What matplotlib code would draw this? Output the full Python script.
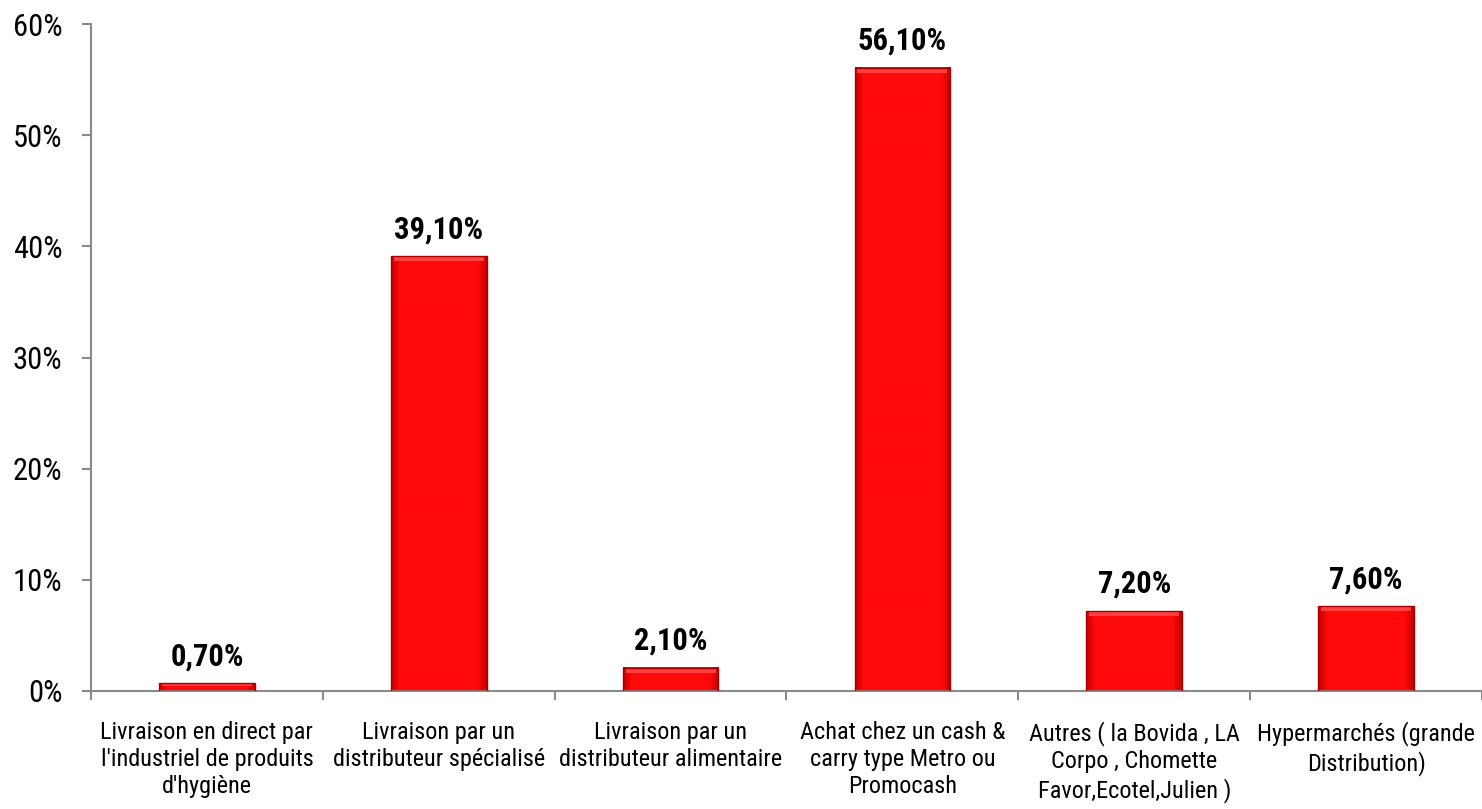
import matplotlib
matplotlib.use("Agg")
import matplotlib.pyplot as plt
from matplotlib.colors import to_rgb
import numpy as np

plt.rcParams['font.family'] = ['Roboto Condensed', 'Archivo Narrow', 'Liberation Sans', 'DejaVu Sans']

# Modes d'approvisionnement et part des réponses (%)
categories = [
    "Livraison en direct par\nl'industriel de produits\nd'hygiène",
    "Livraison par un\ndistributeur spécialisé",
    "Livraison par un\ndistributeur alimentaire",
    "Achat chez un cash &\ncarry type Metro ou\nPromocash",
    "Autres ( la Bovida , LA\nCorpo , Chomette\nFavor,Ecotel,Julien )",
    "Hypermarchés (grande\nDistribution)",
]
valeurs = [0.7, 39.1, 2.1, 56.1, 7.2, 7.6]
etiquettes = ["0,70%", "39,10%", "2,10%", "56,10%", "7,20%", "7,60%"]
yticks = [0, 10, 20, 30, 40, 50, 60]

GRIS = '#8a8a8a'

fig = plt.figure(figsize=(14.82, 8.09), dpi=100)
ax = fig.add_axes([0.0614, 0.146, 0.9386, 0.824])

x = np.arange(len(categories))
bars = ax.bar(x, valeurs, width=0.413, color='#f00000', edgecolor='#a80000',
              linewidth=1.0, zorder=3)

# Dégradé horizontal façon relief : bords plus sombres, centre rouge vif
profil = np.linspace(-1, 1, 60)
poids = np.clip((np.abs(profil) - 0.82) / 0.18, 0, 1)
fonce, vif = np.array(to_rgb('#c80000')), np.array(to_rgb('#ff0a0a'))
degrade = (vif[None, :] * (1 - poids[:, None]) + fonce[None, :] * poids[:, None])[None, :, :]
for b in bars:
    x0, w, h = b.get_x(), b.get_width(), b.get_height()
    ax.imshow(degrade, extent=(x0, x0 + w, 0, h), aspect='auto',
              interpolation='bilinear', zorder=2)
    b.set_facecolor('none')
    # liseré clair en haut de la barre
    bande = min(0.45, h * 0.35)
    ax.bar(x0 + w / 2, bande, bottom=h - bande, width=w * 0.94,
           color='#ff4040', linewidth=0, zorder=2.5)

for xi, v, lab in zip(x, valeurs, etiquettes):
    ax.annotate(lab, (xi, v), xytext=(0, 13), textcoords='offset points',
                ha='center', va='baseline', fontsize=22, fontweight='bold')

ax.set_xlim(-0.5, len(categories) - 0.5)
ax.set_ylim(0, 60)
ax.set_yticks(yticks)
ax.set_yticklabels([f"{t}%" for t in yticks], fontsize=22)
ax.set_xticks(x)
ax.set_xticklabels(categories, fontsize=17.5, linespacing=1.22)
ax.set_xticks(np.arange(len(categories) + 1) - 0.5, minor=True)

for s in ['top', 'right']:
    ax.spines[s].set_visible(False)
for s in ['left', 'bottom']:
    ax.spines[s].set_color(GRIS)
    ax.spines[s].set_linewidth(1.5)

ax.tick_params(axis='x', which='major', length=0, pad=22)
ax.tick_params(axis='x', which='minor', length=6.5, width=1.5, color=GRIS)
ax.tick_params(axis='y', length=6.5, width=1.5, color=GRIS, pad=14)

plt.savefig("out.png", dpi=100)
